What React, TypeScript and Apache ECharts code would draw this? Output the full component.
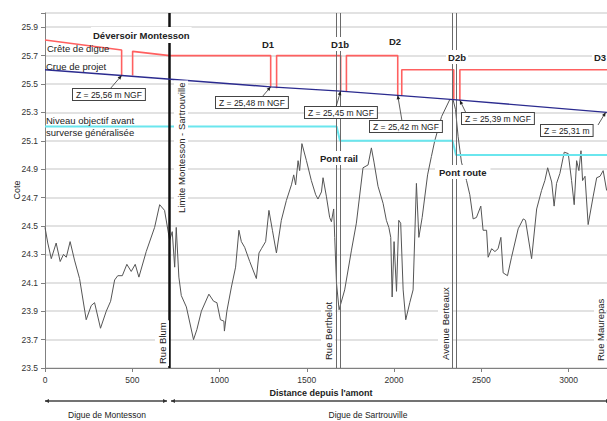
import React, { useEffect, useRef } from 'react';
import * as echarts from 'echarts';

// Terrain profile (distance depuis l'amont, cote)
const profileDist = [0, 16, 36, 64, 87, 106, 122, 144, 169, 198, 236, 265, 284, 318, 351, 376, 399, 417, 443, 469, 494, 517, 538, 580, 628, 657, 685, 714, 729, 743, 752, 767, 781, 810, 851, 870, 896, 939, 966, 985, 1005, 1025, 1028, 1042, 1068, 1092, 1111, 1125, 1144, 1173, 1192, 1211, 1226, 1240, 1264, 1283, 1303, 1326, 1354, 1383, 1412, 1425, 1436, 1450, 1459, 1472, 1498, 1526, 1551, 1564, 1584, 1593, 1612, 1631, 1641, 1654, 1660, 1670, 1685, 1717, 1756, 1784, 1822, 1851, 1870, 1885, 1908, 1937, 1956, 1970, 1981, 1989, 2000, 2014, 2027, 2038, 2052, 2067, 2090, 2109, 2128, 2142, 2161, 2192, 2214, 2233, 2272, 2319, 2338, 2352, 2367, 2386, 2415, 2434, 2453, 2472, 2497, 2510, 2530, 2539, 2559, 2578, 2596, 2612, 2625, 2650, 2673, 2711, 2740, 2753, 2788, 2817, 2845, 2864, 2880, 2903, 2917, 2931, 2950, 2975, 2998, 3017, 3032, 3046, 3059, 3071, 3080, 3094, 3112, 3141, 3161, 3180, 3198, 3218];
const profileCote = [24.49, 24.38, 24.27, 24.38, 24.25, 24.30, 24.28, 24.39, 24.26, 24.13, 23.84, 23.94, 23.96, 23.78, 23.90, 23.97, 24.12, 24.15, 24.15, 24.23, 24.18, 24.23, 24.14, 24.32, 24.49, 24.65, 24.61, 24.40, 24.46, 24.21, 24.49, 24.14, 24.01, 23.93, 23.70, 23.77, 23.90, 24.02, 23.97, 23.96, 23.84, 23.83, 23.76, 23.90, 24.07, 24.21, 24.47, 24.39, 24.35, 24.25, 24.19, 24.13, 24.31, 24.34, 24.39, 24.61, 24.47, 24.31, 24.54, 24.68, 24.79, 24.86, 24.79, 24.96, 24.89, 25.08, 24.96, 24.82, 24.72, 24.69, 24.74, 24.84, 24.71, 24.56, 24.53, 24.62, 24.42, 24.10, 23.91, 24.05, 24.33, 24.52, 24.91, 24.93, 25.05, 24.95, 24.78, 24.66, 24.54, 24.49, 24.42, 24.00, 24.39, 24.04, 24.54, 24.52, 24.05, 23.84, 23.96, 24.05, 24.80, 24.42, 24.56, 24.86, 24.99, 25.10, 25.27, 25.39, 25.39, 25.32, 25.13, 24.95, 24.82, 24.72, 24.55, 24.56, 24.64, 24.47, 24.47, 24.28, 24.34, 24.32, 24.34, 24.42, 24.17, 24.15, 24.28, 24.48, 24.55, 24.54, 24.27, 24.62, 24.75, 24.82, 24.91, 24.81, 24.64, 24.80, 24.87, 25.02, 25.01, 24.82, 24.65, 24.96, 24.89, 25.03, 24.82, 24.85, 24.51, 24.71, 24.84, 24.85, 24.89, 24.75];

// Crête de digue (null = break)
const creteDist = [0, 439, 439, 470, 502, 502, 714, 1293, 1293, 1310, 1327, 1327, 1694, 1694, 1710, 1727, 1727, 2021, 2021, 2032, 2044, 2044, 2342, 2342, 2360, 2377, 2377, 3220];
const creteCote = [25.81, 25.74, 25.56, null, 25.56, 25.73, 25.70, 25.70, 25.48, null, 25.47, 25.70, 25.70, 25.45, null, 25.445, 25.70, 25.70, 25.42, null, 25.42, 25.60, 25.60, 25.39, null, 25.385, 25.60, 25.60];

// Crue de projet
const crueDist = [0, 439, 1293, 1694, 2021, 2342, 3220];
const crueCote = [25.60, 25.56, 25.48, 25.45, 25.42, 25.39, 25.30];

// Niveau objectif avant surverse généralisée
const objDist = [0, 1671, 1690, 2335, 2355, 3220];
const objCote = [25.2, 25.2, 25.1, 25.1, 25.0, 25.0];

// Vertical reference lines
const limitLine = 714;
const doubleLines = [1671, 1694, 2335, 2358];

// Annotations: Z labels, target on crue line
const zLabels = ['Z = 25,56 m NGF', 'Z = 25,48 m NGF', 'Z = 25,45 m NGF', 'Z = 25,42 m NGF', 'Z = 25,39 m NGF', 'Z = 25,31 m'];
const zTargetDist = [439, 1293, 1694, 2021, 2377, 3212];
const zTargetCote = [25.56, 25.48, 25.45, 25.42, 25.385, 25.30];

const FONT = '"Liberation Sans", Arial, sans-serif';

export default function App() {
  const ref = useRef<HTMLDivElement>(null);
  useEffect(() => {
    document.body.style.margin = '0';
    const chart = echarts.init(ref.current!, null, { renderer: 'svg' });
    const zip = (a: number[], b: (number | null)[]) => a.map((x, i) => [x, b[i]]);
    chart.setOption({
      animation: false,
      grid: { left: 45, right: 0, top: 13, bottom: 53 },
      xAxis: {
        type: 'value', min: 0, max: 3220, interval: 500,
        axisLine: { lineStyle: { color: '#808080' } },
        axisTick: { lineStyle: { color: '#808080' }, length: 4 },
        axisLabel: {
          color: '#333', fontSize: 8.5, fontFamily: FONT, margin: 7, showMaxLabel: false,
          formatter: (v: number) => String(Math.round(v)),
        },
        splitLine: { show: false },
      },
      yAxis: {
        type: 'value', min: 23.5, max: 26.0, interval: 0.2,
        axisLine: { show: true, lineStyle: { color: '#808080' } },
        axisTick: { show: true, lineStyle: { color: '#808080' }, length: 4 },
        axisLabel: {
          color: '#333', fontSize: 8.5, fontFamily: FONT, margin: 7,
          formatter: (v: number) => (Math.abs(v - 26) < 1e-6 ? '' : v.toFixed(1)),
        },
        splitLine: { show: true, lineStyle: { color: '#d9d9d9', width: 1.5 } },
      },
      series: [
        {
          type: 'line', data: zip(profileDist, profileCote), symbol: 'none',
          lineStyle: { color: '#555', width: 1 }, z: 3,
          markLine: {
            silent: true, symbol: ['none', 'none'], label: { show: false },
            data: [
              { xAxis: limitLine, lineStyle: { color: '#111', width: 2.5, type: 'solid' } },
              ...doubleLines.map((d) => ({ xAxis: d, lineStyle: { color: '#6a6a6a', width: 1, type: 'solid' } })),
            ],
          },
        },
        {
          type: 'line', data: zip(creteDist, creteCote), symbol: 'none', connectNulls: false,
          lineStyle: { color: '#ff6060', width: 1.6 }, z: 4,
        },
        {
          type: 'line', data: zip(crueDist, crueCote), symbol: 'none',
          lineStyle: { color: '#2b2b8f', width: 1.4 }, z: 5,
        },
        {
          type: 'line', data: zip(objDist, objCote), symbol: 'none',
          lineStyle: { color: '#6ae6ee', width: 2 }, z: 4,
        },
      ],
    });

    const px = (d: number, v: number) => chart.convertToPixel({ seriesIndex: 0 }, [d, v]) as number[];
    const txt = (t: string, x: number, y: number, o: any = {}) => ({
      type: 'text', x, y, z: 100, rotation: o.rot || 0,
      style: {
        text: t, x: 0, y: 0, fill: '#222',
        font: `${o.bold ? 'bold ' : ''}${o.size || 9.5}px ${FONT}`,
        align: o.align || 'left', verticalAlign: o.va || 'middle',
        backgroundColor: o.bg ? '#fff' : undefined,
        padding: o.pad || (o.bg ? [2, 2] : 0),
        borderColor: o.border ? '#444' : undefined,
        borderWidth: o.border ? 1 : 0,
      },
    });

    const boxPos = [[73, 89], [216, 97], [305, 107], [370, 121], [462, 113], [541, 125]];
    const arrowFrom = [[110, 89], [262, 97], [336, 107], [402, 121], [466, 113], [598, 125]];

    const graphics: any[] = [];
    zLabels.forEach((label, i) => {
      const [tx, ty] = px(zTargetDist[i], zTargetCote[i]);
      const [fx, fy] = arrowFrom[i];
      graphics.push({ type: 'line', z: 90, shape: { x1: fx, y1: fy, x2: tx, y2: ty }, style: { stroke: '#333', lineWidth: 0.8 } });
      const ang = Math.atan2(ty - fy, tx - fx);
      const L = 4, W = 1.8;
      graphics.push({
        type: 'polygon', z: 90,
        shape: { points: [[tx, ty], [tx - L * Math.cos(ang) - W * Math.sin(ang), ty - L * Math.sin(ang) + W * Math.cos(ang)], [tx - L * Math.cos(ang) + W * Math.sin(ang), ty - L * Math.sin(ang) - W * Math.cos(ang)]] },
        style: { fill: '#222' },
      });
      graphics.push(txt(label, boxPos[i][0], boxPos[i][1], { size: 8.5, va: 'top', bg: true, border: true, pad: [1, 3] }));
    });

    graphics.push(
      txt('Déversoir Montesson', 91, 35, { bold: true, bg: true, pad: [3, 2] }),
      txt('Crête de digue', 47, 48),
      txt('Crue de projet', 46, 66),
      txt('Niveau objectif avant', 46, 120),
      txt('surverse généralisée', 46, 132),
      txt('D1', 268, 44, { bold: true, align: 'center', bg: true }),
      txt('D1b', 340, 44, { bold: true, align: 'center', bg: true }),
      txt('D2', 395, 41, { bold: true, align: 'center', bg: true }),
      txt('D2b', 457, 57, { bold: true, align: 'center', bg: true }),
      txt('D3', 592, 57, { bold: true, bg: true }),
      txt('Pont rail', 318, 158, { bold: true, bg: true }),
      txt('Pont route', 435, 172, { bold: true, bg: true, pad: [2, 4] }),
      txt('Rue Blum', 162, 366, { rot: Math.PI / 2, bg: true }),
      txt('Limite Montesson - Sartrouville', 181, 215, { rot: Math.PI / 2, bg: true }),
      txt('Rue Berthelot', 328, 362, { rot: Math.PI / 2, bg: true }),
      txt('Avenue Berteaux', 445, 362, { rot: Math.PI / 2, bg: true }),
      txt('Rue Maurepas', 600, 362, { rot: Math.PI / 2, bg: true, pad: [1, 1] }),
      txt('Cote', 17, 190, { rot: Math.PI / 2, align: 'center', size: 9 }),
      txt("Distance depuis l'amont", 321, 393, { bold: true, align: 'center', size: 9 }),
      txt('Digue de Montesson', 107, 415, { align: 'center', size: 8.5 }),
      txt('Digue de Sartrouville', 368, 415, { align: 'center', size: 8.5 }),
    );

    // arrows under the axis
    const arrowY = 401;
    const segs = [[45, 167], [171, 610]];
    segs.forEach(([a, b]) => {
      graphics.push({ type: 'line', z: 90, shape: { x1: a, y1: arrowY, x2: b, y2: arrowY }, style: { stroke: '#444', lineWidth: 1.5 } });
      graphics.push({ type: 'polygon', z: 90, shape: { points: [[a, arrowY], [a + 4, arrowY - 2], [a + 4, arrowY + 2]] }, style: { fill: '#333' } });
      graphics.push({ type: 'polygon', z: 90, shape: { points: [[b, arrowY], [b - 4, arrowY - 2], [b - 4, arrowY + 2]] }, style: { fill: '#333' } });
    });

    chart.setOption({ graphic: graphics });
    return () => chart.dispose();
  }, []);
  return <div ref={ref} style={{ position: 'absolute', left: 0, top: 0, width: 607, height: 421 }} />;
}
